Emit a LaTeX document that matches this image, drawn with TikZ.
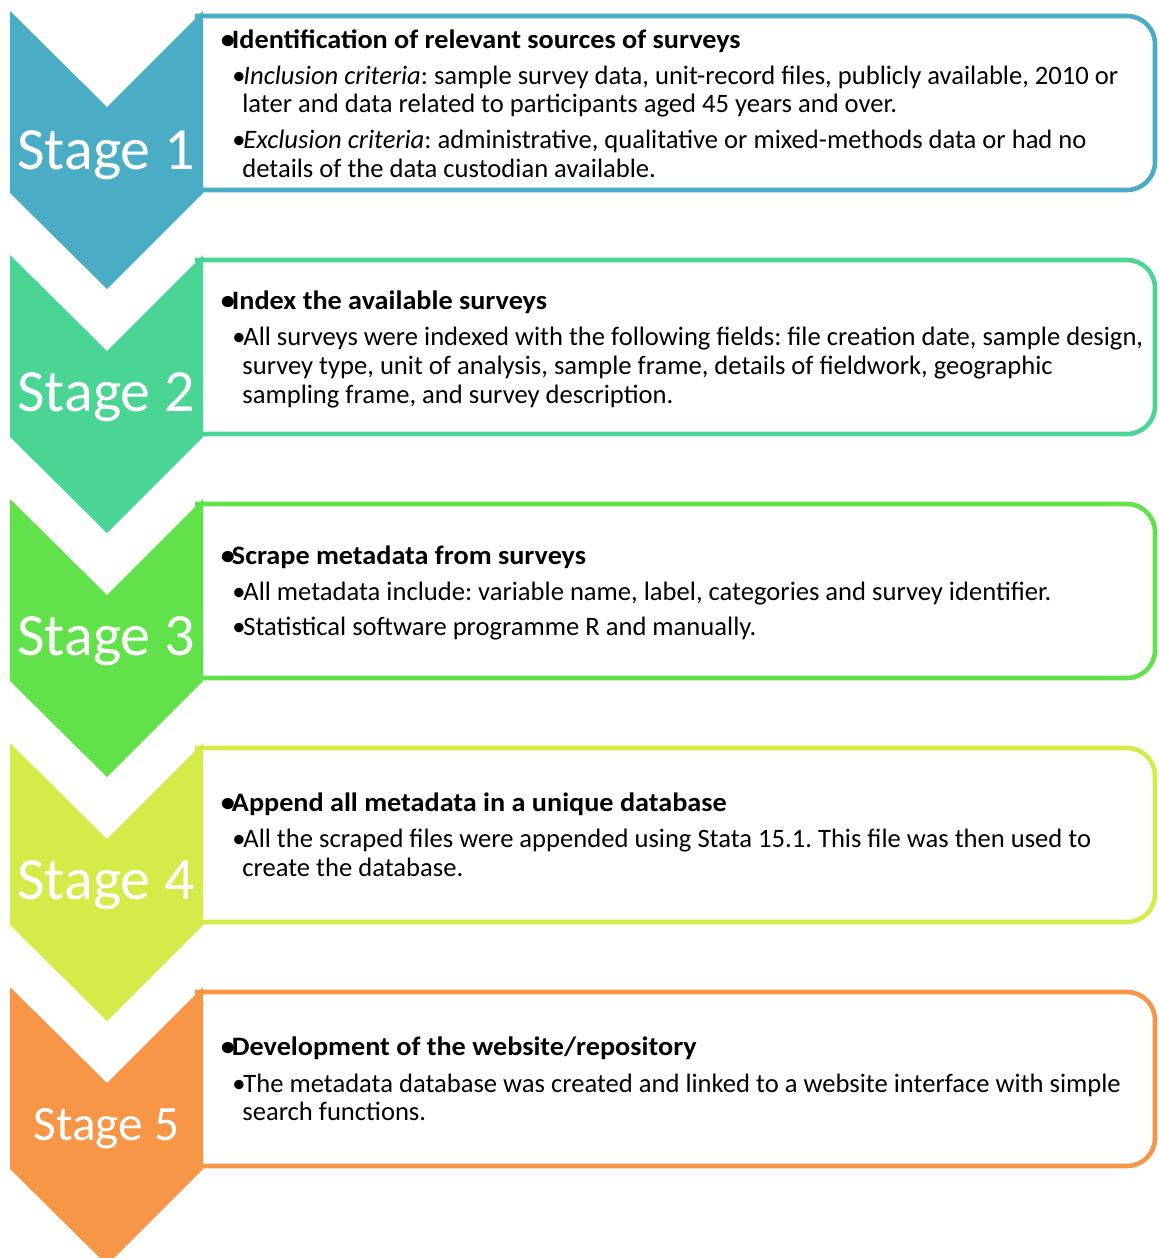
\documentclass[tikz,border=0pt]{standalone}
\usepackage{fontspec}
\setmainfont{Carlito}
\newfontfamily\headfont{Carlito}[FakeStretch=1.06]
\definecolor{cA}{HTML}{4BACC6}
\definecolor{cB}{HTML}{4AD594}
\definecolor{cC}{HTML}{62E24A}
\definecolor{cD}{HTML}{D4EB4A}
\definecolor{cE}{HTML}{F79646}
\newcommand{\bul}{\makebox[5.5pt][l]{\textbullet}}
\frenchspacing
\begin{document}
\begin{tikzpicture}[x=0.5pt,y=-0.5pt,
  boxline/.style={line width=2.3pt, rounded corners=14pt},
  stagelabel/.style={anchor=base, text=white, inner sep=0pt, font=\fontsize{30}{34}\selectfont},
  txt/.style={anchor=base west, inner sep=0pt, font=\frenchspacing\fontsize{13.3}{15}\selectfont},
  head/.style={anchor=base west, inner sep=0pt, font=\headfont\bfseries\fontsize{13.3}{15}\selectfont}]
\useasboundingbox (0,0) rectangle (1158,1258);
\clip (0,0) rectangle (1158,1258);
% ---------- Stage 1 (T=11)
\draw[boxline, draw=cA] (195,16) -- (1155,16) -- (1155,190) -- (195,190);
\fill[cA] (10,11) -- (107,107) -- (203,11) -- (203,193) -- (107,289) -- (10,193) -- cycle;
\node[stagelabel] (s1) at (106,169) {Stage 1};
\node[head] (t1a) at (220.5,48) {\bul Identification of relevant sources of surveys};
\node[txt] (t1b) at (232,84) {\bul\textit{Inclusion criteria}: sample survey data, unit-record files, publicly available, 2010 or};
\node[txt] (t1c) at (242,112) {later and data related to participants aged 45 years and over.};
\node[txt] (t1d) at (232,148) {\bul\textit{Exclusion criteria}: administrative, qualitative or mixed-methods data or had no};
\node[txt] (t1e) at (242,177) {details of the data custodian available.};
% ---------- Stage 2 (T=255)
\draw[boxline, draw=cB] (195,260) -- (1155,260) -- (1155,434) -- (195,434);
\fill[cB] (10,255) -- (107,351) -- (203,255) -- (203,437) -- (107,533) -- (10,437) -- cycle;
\node[stagelabel] (s2) at (106,411) {Stage 2};
\node[head] (t2a) at (220.5,309) {\bul Index the available surveys};
\node[txt] (t2b) at (232,345) {\bul All surveys were indexed with the following fields: file creation date, sample design,};
\node[txt] (t2c) at (242,374) {survey type, unit of analysis, sample frame, details of fieldwork, geographic};
\node[txt] (t2d) at (242,403) {sampling frame, and survey description.};
% ---------- Stage 3 (T=499)
\draw[boxline, draw=cC] (195,504) -- (1155,504) -- (1155,678) -- (195,678);
\fill[cC] (10,499) -- (107,595) -- (203,499) -- (203,681) -- (107,777) -- (10,681) -- cycle;
\node[stagelabel] (s3) at (106,655) {Stage 3};
\node[head] (t3a) at (220.5,564) {\bul Scrape metadata from surveys};
\node[txt] (t3b) at (232,600) {\bul All metadata include: variable name, label, categories and survey identifier.};
\node[txt] (t3c) at (232,635) {\bul Statistical software programme R and manually.};
% ---------- Stage 4 (T=743)
\draw[boxline, draw=cD] (195,748) -- (1155,748) -- (1155,922) -- (195,922);
\fill[cD] (10,743) -- (107,839) -- (203,743) -- (203,925) -- (107,1021) -- (10,925) -- cycle;
\node[stagelabel] (s4) at (106,899) {Stage 4};
\node[head] (t4a) at (220.5,811) {\bul Append all metadata in a unique database};
\node[txt] (t4b) at (232,847) {\bul All the scraped files were appended using Stata 15.1. This file was then used to};
\node[txt] (t4c) at (242,876) {create the database.};
% ---------- Stage 5 (T=987)
\draw[boxline, draw=cE] (195,992) -- (1155,992) -- (1155,1166) -- (195,1166);
\fill[cE] (10,987) -- (107,1083) -- (203,987) -- (203,1169) -- (107,1265) -- (10,1169) -- cycle;
\node[stagelabel, font=\fontsize{24.7}{28}\selectfont] (s5) at (106.5,1140) {Stage 5};
\node[head] (t5a) at (220.5,1055) {\bul Development of the website/repository};
\node[txt] (t5b) at (232,1092) {\bul The metadata database was created and linked to a website interface with simple};
\node[txt] (t5c) at (242,1120) {search functions.};
\end{tikzpicture}
\end{document}
